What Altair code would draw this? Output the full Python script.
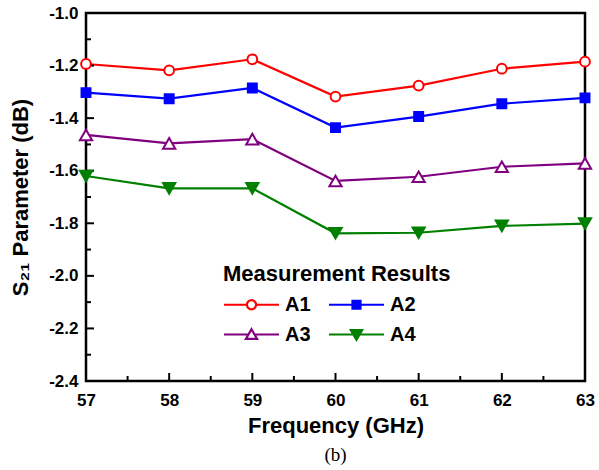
import altair as alt
import pandas as pd

# Measured S21 of the four samples across the 57-63 GHz band
freq = [57, 58, 59, 60, 61, 62, 63]
a1 = [-1.194, -1.218, -1.176, -1.318, -1.276, -1.212, -1.185]
a2 = [-1.303, -1.326, -1.285, -1.436, -1.394, -1.345, -1.323]
a3 = [-1.464, -1.496, -1.480, -1.639, -1.623, -1.585, -1.572]
a4 = [-1.620, -1.667, -1.667, -1.838, -1.836, -1.810, -1.801]

series_names = ["A1", "A2", "A3", "A4"]
series_values = [a1, a2, a3, a4]
colors = ["#ff0000", "#0000ff", "#800080", "#008000"]
marker_shapes = ["circle", "square", "triangle-up", "triangle-down"]
marker_fills = ["white", "#0000ff", "white", "#008000"]
marker_sizes = [95, 80, 150, 150]

# axis ticks (drawn inside the frame)
x_major = [57, 58, 59, 60, 61, 62, 63]
x_minor = [57.5, 58.5, 59.5, 60.5, 61.5, 62.5]
y_major = [-2.4, -2.2, -2.0, -1.8, -1.6, -1.4, -1.2, -1.0]
y_minor = [-2.3, -2.1, -1.9, -1.7, -1.5, -1.3, -1.1]

# legend glyphs: a line segment with the marker in the middle
legend_paths = [
    "M-2.75,0H-0.46M0.46,0H2.75M-0.46,0A0.46,0.46 0 1,1 0.46,0A0.46,0.46 0 1,1 -0.46,0Z",
    "M-2.75,0H2.75M-0.4,-0.4H0.4V0.4H-0.4Z",
    "M-2.75,0H-0.3M0.3,0H2.75M0,-0.52L0.56,0.44L-0.56,0.44Z",
    "M-2.75,0H2.75M0,0.52L0.56,-0.44L-0.56,-0.44Z",
]

rows = []
for name, vals in zip(series_names, series_values):
    for f, v in zip(freq, vals):
        rows.append({"freq": f, "s21": v, "series": name})
df = pd.DataFrame(rows)

FONT = "Liberation Sans"
W, H = 499, 368

x_scale = alt.Scale(domain=[57, 63], nice=False, zero=False)
y_scale = alt.Scale(domain=[-2.4, -1.0], nice=False, zero=False)

x_enc = alt.X(
    "freq:Q", scale=x_scale,
    axis=alt.Axis(
        title="Frequency (GHz)", values=x_major, format="d", tickSize=0,
        domain=False, grid=False, labelPadding=11, titlePadding=7,
        labelFont=FONT, labelFontSize=17, labelFontWeight="bold",
        labelColor="black", titleFont=FONT, titleFontSize=22,
        titleFontWeight="bold", titleColor="black", labelFlush=False,
    ),
)
y_enc = alt.Y(
    "s21:Q", scale=y_scale,
    axis=alt.Axis(
        title="S\u2082\u2081 Parameter (dB)", values=y_major, format=".1f",
        labelExpr="replace(datum.label, '\u2212', '-')",
        tickSize=0, domain=False, grid=False, labelPadding=8, titlePadding=16,
        labelFont=FONT, labelFontSize=17, labelFontWeight="bold",
        labelColor="black", titleFont=FONT, titleFontSize=22,
        titleFontWeight="bold", titleColor="black", labelFlush=False,
    ),
)

color_scale = alt.Scale(domain=series_names, range=colors)

base = alt.Chart(df)

line_layers = []
point_layers = []
for i, (name, col, shp, fil, sz) in enumerate(
        zip(series_names, colors, marker_shapes, marker_fills, marker_sizes)):
    sub = base.transform_filter(alt.datum.series == name)
    if i == 0:
        line_layers.append(sub.mark_line(strokeWidth=2.2, color=col).encode(x=x_enc, y=y_enc))
    else:
        line_layers.append(sub.mark_line(strokeWidth=2.2, color=col).encode(x="freq:Q", y="s21:Q"))
    point_layers.append(
        sub.mark_point(shape=shp, size=sz, fill=fil, stroke=col, strokeWidth=2,
                       opacity=1, filled=True)
        .encode(x="freq:Q", y="s21:Q")
    )

# carries only the legend (no marks are drawn from it)
legend_layer = base.transform_filter("false").mark_point(strokeWidth=2.2, opacity=1).encode(
    x="freq:Q", y="s21:Q",
    color=alt.Color(
        "series:N", scale=color_scale,
        legend=alt.Legend(
            title="Measurement Results", orient="none", legendX=137, legendY=251,
            direction="horizontal", columns=2, columnPadding=13, rowPadding=8,
            symbolSize=400, symbolStrokeWidth=2.2, labelOffset=22, symbolOffset=17,
            titleFont=FONT, titleFontSize=22, titleFontWeight="bold",
            titleColor="black", titlePadding=7, titleLimit=400, labelFont=FONT,
            labelFontSize=20, labelFontWeight="bold", labelColor="black",
            symbolOpacity=1,
        ),
    ),
    fill=alt.Fill("series:N", scale=alt.Scale(domain=series_names, range=marker_fills)),
    shape=alt.Shape("series:N", scale=alt.Scale(domain=series_names, range=legend_paths)),
)

x_major_ticks = alt.Chart(pd.DataFrame({"t": x_major[1:-1]})).mark_rule(
    color="black", strokeWidth=2).encode(
    x=alt.X("t:Q", scale=x_scale), y=alt.value(H), y2=alt.value(H - 8))
x_minor_ticks = alt.Chart(pd.DataFrame({"t": x_minor})).mark_rule(
    color="black", strokeWidth=2).encode(
    x=alt.X("t:Q", scale=x_scale), y=alt.value(H), y2=alt.value(H - 5))
y_major_ticks = alt.Chart(pd.DataFrame({"t": y_major[1:-1]})).mark_rule(
    color="black", strokeWidth=2).encode(
    y=alt.Y("t:Q", scale=y_scale), x=alt.value(0), x2=alt.value(8))
y_minor_ticks = alt.Chart(pd.DataFrame({"t": y_minor})).mark_rule(
    color="black", strokeWidth=2).encode(
    y=alt.Y("t:Q", scale=y_scale), x=alt.value(0), x2=alt.value(5))

chart = alt.layer(
    *line_layers, x_minor_ticks, x_major_ticks, y_minor_ticks, y_major_ticks,
    *point_layers, legend_layer,
).properties(
    width=W, height=H,
    title=alt.Title("(b)", orient="bottom", anchor="middle",
                    font="Liberation Serif", fontSize=19, fontWeight="normal",
                    color="black", offset=10),
    autosize=alt.AutoSizeParams(type="none"),
    padding={"left": 86, "top": 13, "right": 14, "bottom": 89},
).configure(
    background="white",
    view=alt.ViewConfig(stroke="black", strokeWidth=2.5),
)

chart.save("out.html", embed_options={"renderer": "svg", "actions": False})
